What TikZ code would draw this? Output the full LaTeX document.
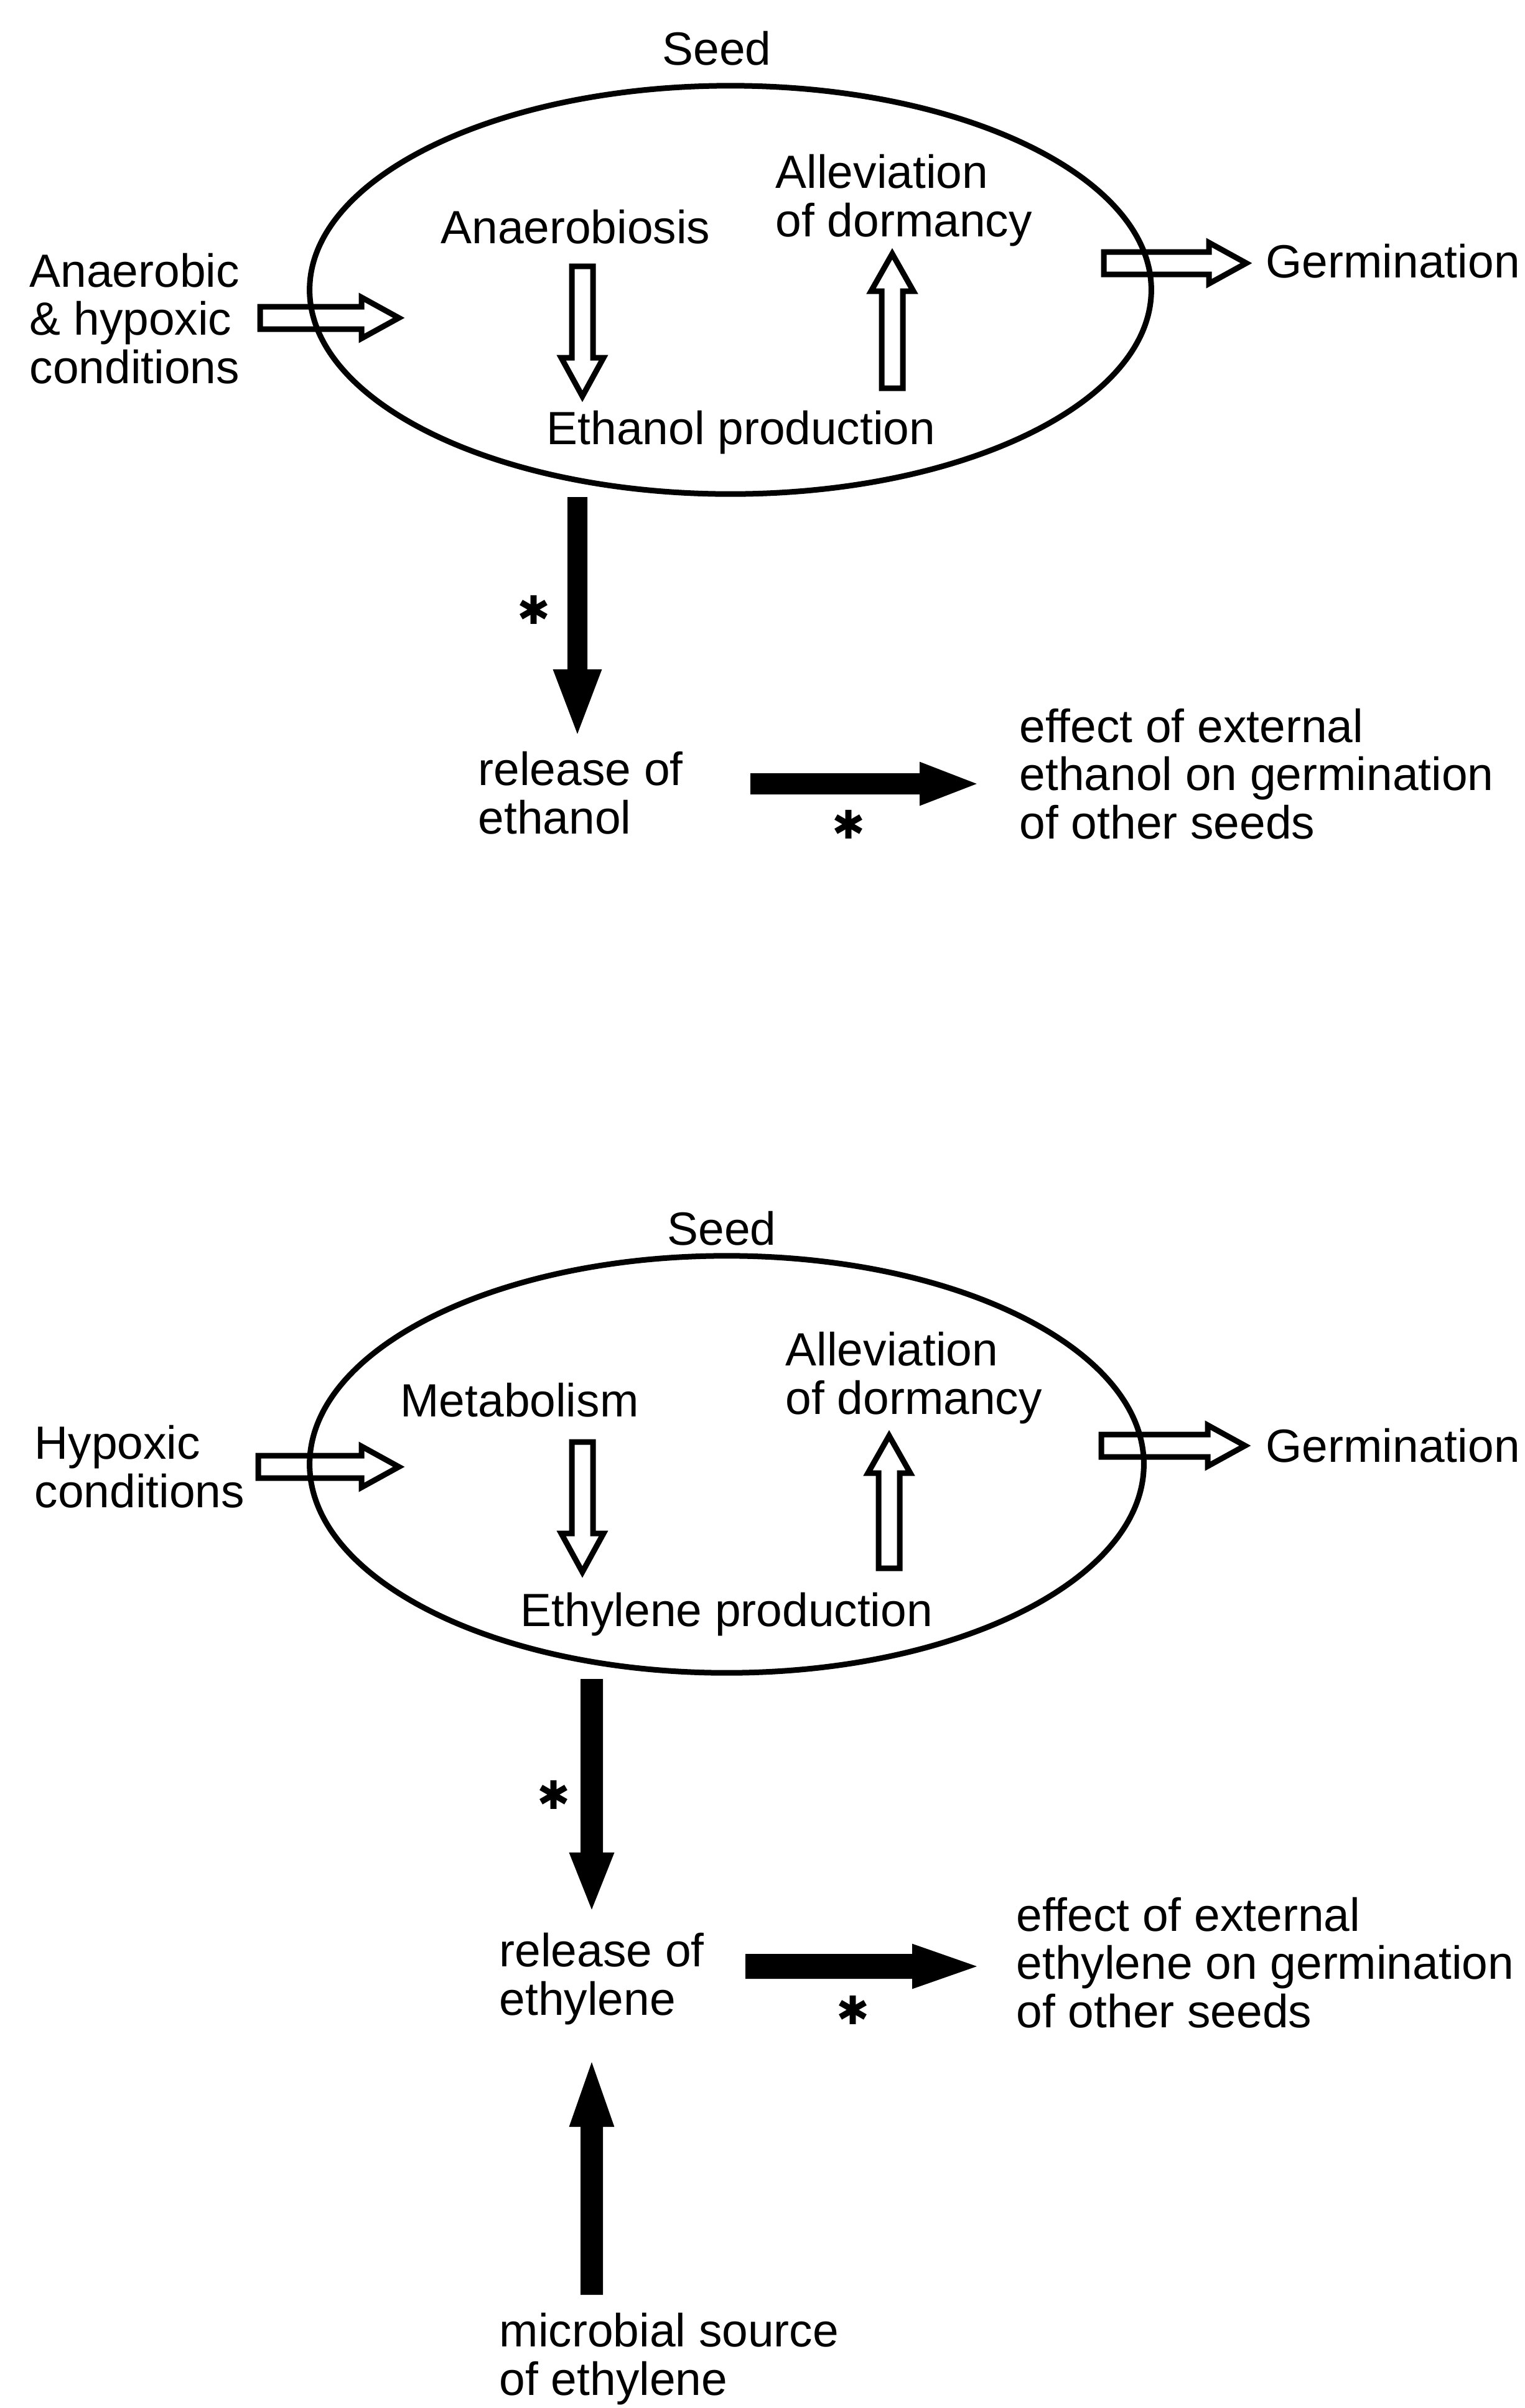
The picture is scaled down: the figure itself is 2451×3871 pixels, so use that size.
\documentclass[tikz,border=0pt]{standalone}
\usepackage{fontspec}
\setmainfont{Liberation Sans}
\newfontfamily\symfont{DejaVu Sans}
\usetikzlibrary{calc,shapes.geometric}

% arrow bodies between two named points: #1 start, #2 tip, #3 shaft half width, #4 head half width, #5 head length, #6 style
\newcommand\myArrR[6]{\draw[#6] ($(#1)+(0,-#3)$) -- ($(#2)+(-#5,-#3)$) -- ($(#2)+(-#5,-#4)$) -- (#2) -- ($(#2)+(-#5,#4)$) -- ($(#2)+(-#5,#3)$) -- ($(#1)+(0,#3)$) -- cycle;}
\newcommand\myArrD[6]{\draw[#6] ($(#1)+(-#3,0)$) -- ($(#2)+(-#3,-#5)$) -- ($(#2)+(-#4,-#5)$) -- (#2) -- ($(#2)+(#4,-#5)$) -- ($(#2)+(#3,-#5)$) -- ($(#1)+(#3,0)$) -- cycle;}
\newcommand\myArrU[6]{\draw[#6] ($(#1)+(-#3,0)$) -- ($(#2)+(-#3,#5)$) -- ($(#2)+(-#4,#5)$) -- (#2) -- ($(#2)+(#4,#5)$) -- ($(#2)+(#3,#5)$) -- ($(#1)+(#3,0)$) -- cycle;}

\tikzset{
  seedshape/.style={draw=black, ellipse, line width=0.09cm, inner sep=0pt},
  hollowarr/.style={draw=black, line width=0.09cm, line join=miter, fill=none},
  solidarr/.style={draw=black, fill=black, line width=0.02cm, line join=miter},
  lbl/.style={inner sep=0pt, anchor=base west, align=left},
  clbl/.style={inner sep=0pt, anchor=base},
  star/.style={inner sep=0pt, anchor=center, font=\symfont\fontsize{18pt}{18pt}\selectfont},
}

\begin{document}
\begin{tikzpicture}[x=0.01cm, y=-0.01cm, font=\fontsize{21.3pt}{22pt}\selectfont]
\useasboundingbox (0,0) rectangle (2451,3871);
\fill[white] (0,0) rectangle (2451,3871);

% ================= top diagram =================
\node[seedshape, minimum width=13.52cm, minimum height=6.56cm] (seedA) at (1174,466) {};
\node[clbl] (seedAlbl) at (1152,104) {Seed};
\node[clbl] (anaer) at (925,391) {Anaerobiosis};
\node[lbl] (alleA) at (1246,380) {Alleviation\\of dormancy};
\node[clbl] (ethprod) at (1191,714) {Ethanol production};
\node[lbl] (condA) at (47,616) {Anaerobic\\\& hypoxic\\conditions};
\node[lbl] (germA) at (2034,446) {Germination};
\node[lbl] (relA) at (768,1340) {release of\\ethanol};
\node[lbl] (effA) at (1638,1348) {effect of external\\ethanol on germination\\of other seeds};
\node[star] (starA1) at (858,980) {✱};
\node[star] (starA2) at (1364,1325) {✱};

\coordinate (h1a) at (418,511);  \coordinate (h1b) at (641,511);
\coordinate (h2a) at (1774,423); \coordinate (h2b) at (2003,423);
\coordinate (h3a) at (936,428);  \coordinate (h3b) at (936,637);
\coordinate (h4a) at (1434,624); \coordinate (h4b) at (1434,408);
\coordinate (b1a) at (928,800);  \coordinate (b1b) at (928,1177);
\coordinate (b2a) at (1207,1260);\coordinate (b2b) at (1567,1260);

\myArrR{h1a}{h1b}{18}{33}{60}{hollowarr}
\myArrR{h2a}{h2b}{18}{33}{60}{hollowarr}
\myArrD{h3a}{h3b}{17}{34}{62}{hollowarr}
\myArrU{h4a}{h4b}{17}{34}{60}{hollowarr}
\myArrD{b1a}{b1b}{15}{38}{100}{solidarr}
\myArrR{b2a}{b2b}{16}{34}{88}{solidarr}

% ================= bottom diagram =================
\node[seedshape, minimum width=13.40cm, minimum height=6.70cm] (seedB) at (1168,2354) {};
\node[clbl] (seedBlbl) at (1160,2001) {Seed};
\node[clbl] (metab) at (835,2277) {Metabolism};
\node[lbl] (alleB) at (1262,2273) {Alleviation\\of dormancy};
\node[clbl] (ethyprod) at (1168,2614) {Ethylene production};
\node[lbl] (condB) at (55,2423) {Hypoxic\\conditions};
\node[lbl] (germB) at (2034,2350) {Germination};
\node[lbl] (relB) at (802,3239) {release of\\ethylene};
\node[lbl] (effB) at (1633,3259) {effect of external\\ethylene on germination\\of other seeds};
\node[lbl] (micro) at (802,3850) {microbial source\\of ethylene};
\node[star] (starB1) at (890,2885) {✱};
\node[star] (starB2) at (1371,3231) {✱};

\coordinate (h5a) at (415,2358);  \coordinate (h5b) at (641,2358);
\coordinate (h6a) at (1770,2324); \coordinate (h6b) at (2001,2324);
\coordinate (h7a) at (936,2318);  \coordinate (h7b) at (936,2527);
\coordinate (h8a) at (1429,2521); \coordinate (h8b) at (1429,2308);
\coordinate (b3a) at (951,2700);  \coordinate (b3b) at (951,3067);
\coordinate (b4a) at (1199,3161); \coordinate (b4b) at (1567,3161);
\coordinate (b5a) at (951,3688);  \coordinate (b5b) at (951,3318);

\myArrR{h5a}{h5b}{18}{33}{60}{hollowarr}
\myArrR{h6a}{h6b}{18}{33}{60}{hollowarr}
\myArrD{h7a}{h7b}{17}{34}{62}{hollowarr}
\myArrU{h8a}{h8b}{17}{34}{60}{hollowarr}
\myArrD{b3a}{b3b}{17}{35}{88}{solidarr}
\myArrR{b4a}{b4b}{19}{35}{100}{solidarr}
\myArrU{b5a}{b5b}{17}{35}{100}{solidarr}
\end{tikzpicture}
\end{document}
